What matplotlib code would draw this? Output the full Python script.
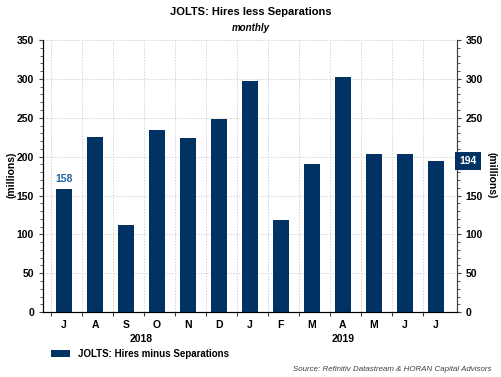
import matplotlib
matplotlib.use('Agg')
import matplotlib.pyplot as plt
from matplotlib.ticker import MultipleLocator
import numpy as np

# data
months = ['J', 'A', 'S', 'O', 'N', 'D', 'J', 'F', 'M', 'A', 'M', 'J', 'J']
years = ['2018', '2019']
year_centers = [2.5, 9.0]
hires_minus_sep = [158, 225, 112, 234, 224, 248, 297, 118, 190, 303, 203, 203, 194]

navy = '#003263'
plt.rcParams['font.family'] = ['Liberation Sans', 'DejaVu Sans']

fig = plt.figure(figsize=(5.01, 3.77), dpi=100)
ax = fig.add_axes([0.0858, 0.172, 0.826, 0.722])
x = np.arange(len(months))

# dotted grid
for g in x - 0.42:
    ax.axvline(g, color='#d4d4d4', linestyle=(0, (1.5, 1.5)), linewidth=0.7, zorder=0)
for g in range(50, 351, 50):
    ax.axhline(g, color='#d4d4d4', linestyle=(0, (1.5, 1.5)), linewidth=0.7, zorder=0)

ax.bar(x, hires_minus_sep, width=0.52, color=navy, zorder=2,
       label='JOLTS: Hires minus Separations')

ax.set_xlim(-0.68, len(months) - 1 + 0.68)
ax.set_ylim(0, 350)
ax.yaxis.set_major_locator(MultipleLocator(50))
ax.yaxis.set_minor_locator(MultipleLocator(10))
ax.set_xticks(x - 0.42)
ax.set_xticklabels([])
ax.tick_params(axis='x', length=3, color='#404040')
ax.tick_params(axis='y', which='major', length=3, labelsize=7.5, color='#404040')
ax.tick_params(axis='y', which='minor', length=2, color='#404040')
for lab in ax.get_yticklabels():
    lab.set_fontweight('bold')
ax.spines['top'].set_visible(False)
for s in ['left', 'bottom', 'right']:
    ax.spines[s].set_color('#404040')

# right axis: the 200 label sits under the last-value box
ax2 = ax.twinx()
ax2.set_ylim(0, 350)
ax2.set_yticks(range(0, 351, 50))
ax2.set_yticklabels(['' if v == 200 else str(v) for v in range(0, 351, 50)])
ax2.yaxis.set_minor_locator(MultipleLocator(10))
ax2.tick_params(axis='y', which='major', length=3, labelsize=7.5, color='#404040')
ax2.tick_params(axis='y', which='minor', length=2, color='#404040')
for lab in ax2.get_yticklabels():
    lab.set_fontweight('bold')
ax2.spines['top'].set_visible(False)
ax2.spines['right'].set_color('#404040')

# month letters and years
for i, m in enumerate(months):
    ax.text(i, -17, m, ha='center', va='center', fontsize=7.5, fontweight='bold')
for c, yr in zip(year_centers, years):
    ax.text(c, -35, yr, ha='center', va='center', fontsize=7.5, fontweight='bold')

fig.text(0.022, 0.536, '(millions)', rotation=90, ha='center', va='center',
         fontsize=7.5, fontweight='bold')
fig.text(0.982, 0.536, '(millions)', rotation=270, ha='center', va='center',
         fontsize=7.5, fontweight='bold')

# value callouts
ax.text(0, hires_minus_sep[0] + 13, str(hires_minus_sep[0]), ha='center', va='center',
        fontsize=7.5, color='#2063a3', fontweight='bold')
fig.text(0.917, 0.172 + 0.722 * hires_minus_sep[-1] / 350, str(hires_minus_sep[-1]),
         ha='left', va='center', fontsize=7.5, color='white', fontweight='bold',
         bbox=dict(boxstyle='square,pad=0.4', facecolor=navy, edgecolor='none'))

fig.text(0.5, 0.968, 'JOLTS: Hires less Separations', ha='center', va='center',
         fontsize=8, fontweight='bold')
fig.text(0.5, 0.926, 'monthly', ha='center', va='center', fontsize=7,
         fontweight='bold', style='italic')

ax.legend(loc='upper left', bbox_to_anchor=(0.01, -0.12), frameon=False,
          prop={'weight': 'bold', 'size': 7}, handlelength=2.0, handleheight=0.8,
          borderaxespad=0)
fig.text(0.982, 0.021, 'Source: Refinitiv Datastream & HORAN Capital Advisors', ha='right',
         va='center', fontsize=5.7, style='italic', color='#404040')

fig.savefig('out.png', dpi=100)
